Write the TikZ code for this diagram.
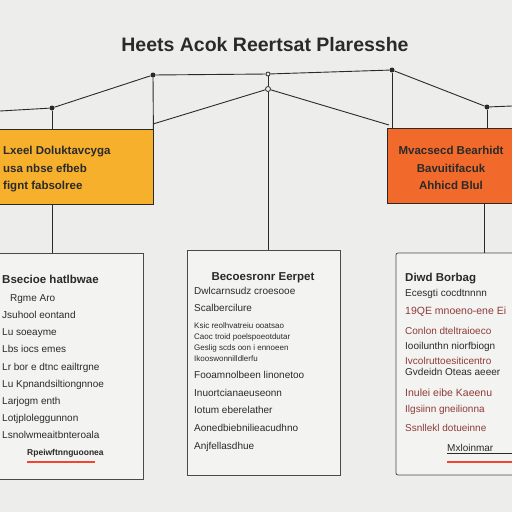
\documentclass[tikz,border=0pt]{standalone}
\usepackage{fontspec}
\setmainfont{Liberation Sans}
\usetikzlibrary{positioning}
\definecolor{paper}{HTML}{EDEDEC}
\definecolor{sheet}{HTML}{F3F3F2}
\definecolor{amber}{HTML}{F6B02C}
\definecolor{tangerine}{HTML}{F26A2B}
\definecolor{ink}{HTML}{2A2A2A}
\definecolor{rust}{HTML}{8E3B38}
\definecolor{redline}{HTML}{F0452E}

\begin{document}
\begin{tikzpicture}[x=1pt, y=-1pt,
    wire/.style = {draw=ink, line width=0.9pt},
    knot/.style = {circle, fill=ink, inner sep=0pt, minimum size=5pt},
    ring/.style = {circle, draw=ink, fill=paper, inner sep=0pt, minimum size=5pt, line width=0.8pt},
    tag/.style = {draw=ink, line width=0.8pt, inner sep=0pt, minimum height=75pt},
    card/.style = {draw=ink!85, line width=0.8pt, fill=sheet, inner sep=0pt},
    tagtext/.style = {text=ink, inner sep=0pt, font=\fontsize{11.5}{17.5}\selectfont\bfseries},
    head/.style = {text=ink, inner sep=0pt, anchor=base west, font=\fontsize{11.5}{12}\selectfont\bfseries},
    line/.style = {text=ink, inner sep=0pt, anchor=base west, font=\fontsize{10}{12}\selectfont}]

  \fill[paper] (0,0) rectangle (512,512);
  \useasboundingbox (0,0) rectangle (512,512);
  \clip (0,0) rectangle (512,512);

  \node[font=\fontsize{19.5}{20}\selectfont\bfseries, text=ink] (title) at (265,45) {Heets Acok Reertsat Plaresshe};

  % top rail
  \coordinate (e0) at (0,111);
  \node[knot] (k1) at (52,108) {};
  \node[knot] (k2) at (153,75) {};
  \node[ring, minimum size=4pt] (k3) at (268,74) {};
  \node[ring] (k4) at (268,89) {};
  \node[knot] (k5) at (392,70) {};
  \node[knot] (k6) at (487,107) {};
  \coordinate (e1) at (512,106);
  \coordinate (lj) at (153,124);
  \coordinate (rj) at (389,125);
  \coordinate (rd) at (484,203);

  % coloured tags
  \node[tag, fill=amber, minimum width=165pt] (lbox) at (70.5,167) {};
  \node[tag, fill=tangerine, minimum width=143pt] (rbox) at (458.5,165.5) {};
  \node[tagtext, align=left, anchor=west] (ltxt) at (3,169.5)
    {Lxeel Doluktavcyga\\usa nbse efbeb\\fignt fabsolree};
  \node[tagtext, align=center] (rtxt) at (451,168)
    {Mvacsecd Bearhidt\\Bavuitifacuk\\Ahhicd Blul};

  % cards
  \node[card, minimum width=148pt, minimum height=226pt] (lcard) at (69,366) {};
  \node[card, minimum width=153pt, minimum height=225pt] (ccard) at (263.5,362.5) {};
  \node[card, minimum width=140pt, minimum height=222pt, rounded corners=2pt] (rcard) at (466,364) {};

  \draw[wire] (e0) -- (k1) -- (k2) -- (k3) -- (k5) -- (k6) -- (e1);
  \draw[wire] (k1) -- (k1 |- lbox.north);
  \draw[wire] (k2) -- (lbox.north east);
  \draw[wire] (lj) -- (k4) -- (rj);
  \draw[wire] (k3) -- (k4) -- (k4 |- ccard.north);
  \draw[wire] (k5) -- (k5 |- rbox.north);
  \draw[wire] (k6) -- (k6 |- rbox.north);
  \draw[wire] (k1 |- lbox.south) -- (k1 |- lcard.north);
  \draw[wire] (rd) -- (rd |- rcard.north);

  % left card
  \node[head] (lh) at (2,283) {Bsecioe hatlbwae};
  \foreach \t [count=\i] in {\hspace*{8pt}Rgme Aro, Jsuhool eontand, Lu soeayme, Lbs iocs emes,
      Lr bor e dtnc eailtrgne, Lu Kpnandsiltiongnnoe, Larjogm enth, Lotjploleggunnon,
      Lsnolwmeaitbnteroala}
    \node[line] (l\i) at (2,284.5+17.1*\i) {\t};
  \node[line, font=\fontsize{8.5}{10}\selectfont\bfseries] (l10) at (27,455) {Rpeiwftnnguoonea};
  \draw[redline, line width=2.4pt] (27,462) -- (95,462);

  % centre card
  \node[head, anchor=base] (ch) at (263,280) {Becoesronr Eerpet};
  \node[line] (c1) at (194,294) {Dwlcarnsudz croesooe};
  \node[line] (c2) at (194,311) {Scalbercilure};
  \foreach \t [count=\i] in {Ksic reolhvatreiu ooatsao, Caoc troid poelspoeotdutar,
      Geslig scds oon i ennoeen, Ikooswonnilldlerfu}
    \node[line, font=\fontsize{8}{9}\selectfont] (d\i) at (194,317+11*\i) {\t};
  \foreach \t [count=\i] in {Fooamnolbeen linonetoo, Inuortcianaeuseonn, Iotum eberelather,
      Aonedbiebnilieacudhno, Anjfellasdhue}
    \node[line] (e\i) at (194,361+17.6*\i) {\t};

  % right card
  \node[head] (rh) at (405,281) {Diwd Borbag};
  \node[line] (r1) at (405,296) {Ecesgti cocdtnnnn};
  \node[line, text=rust, font=\fontsize{10.5}{12}\selectfont] (r2) at (405,314) {19QE mnoeno-ene Ei};
  \node[line, text=rust] (r3) at (405,334) {Conlon dteltraioeco};
  \node[line] (r4) at (405,349) {Iooilunthn niorfbiogn};
  \node[line, text=rust] (r5) at (405,364) {Ivcolruttoesiticentro};
  \node[line] (r6) at (405,375) {Gvdeidn Oteas aeeer};
  \node[line, text=rust, font=\fontsize{10.5}{12}\selectfont] (r7) at (405,396) {Inulei eibe Kaeenu};
  \node[line, text=rust] (r8) at (405,412) {Ilgsiinn gneilionna};
  \node[line, text=rust] (r9) at (405,431) {Ssnllekl dotueinne};
  \node[line] (r10) at (447,451) {Mxloinmar};
  \draw[ink, line width=0.6pt] (447,453) -- (512,453);
  \draw[redline, line width=2.4pt] (447,462) -- (512,462);
\end{tikzpicture}
\end{document}
